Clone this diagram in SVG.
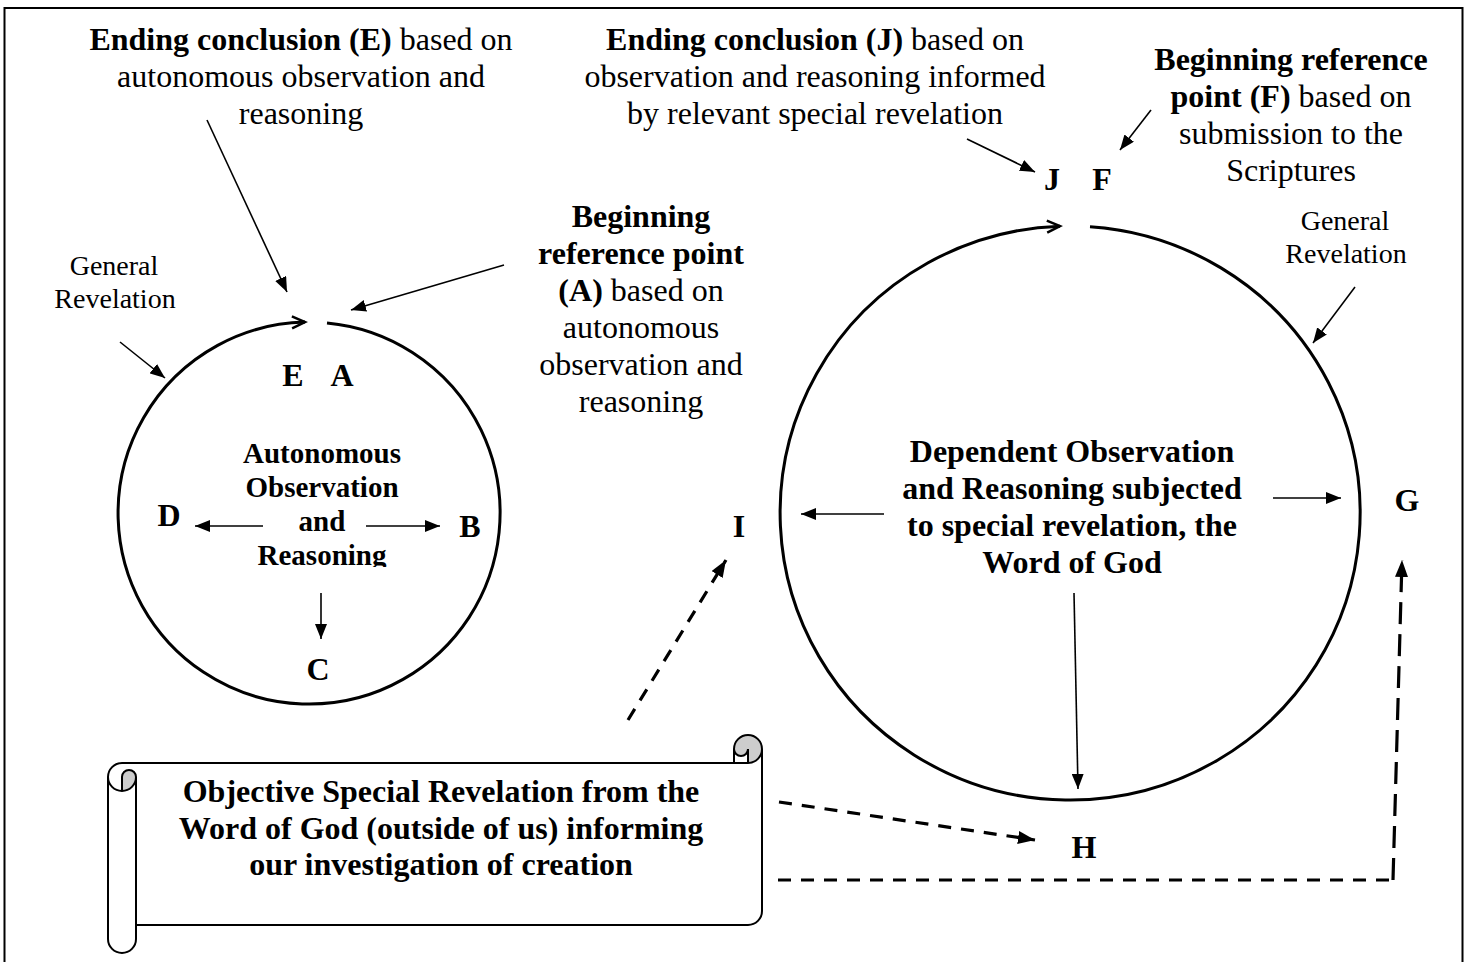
<svg xmlns="http://www.w3.org/2000/svg" width="1468" height="962" viewBox="0 0 1468 962">
<style>
text{font-family:"Liberation Serif","Times New Roman",serif;fill:#000}
.t{font-size:32px;text-anchor:middle}
.s{font-size:28px;text-anchor:middle}
.m{font-size:29px;text-anchor:middle;font-weight:bold}
.b{font-weight:bold}
.L{font-size:32px;font-weight:bold;text-anchor:middle}
.ln{fill:none;stroke:#000;stroke-width:1.6}
.dash{fill:none;stroke:#000;stroke-width:3.2;stroke-dasharray:13 10}
.dashv{fill:none;stroke:#000;stroke-width:3.2;stroke-dasharray:22 10}
.circ{fill:none;stroke:#000;stroke-width:3}
</style>
<defs>
<marker id="tri" viewBox="0 0 15 12" refX="15" refY="6" markerWidth="15" markerHeight="12" markerUnits="userSpaceOnUse" orient="auto"><path d="M0,0 L15,6 L0,12 z" fill="#000"/></marker>
<marker id="trid" viewBox="0 0 17 13" refX="17" refY="6.5" markerWidth="17" markerHeight="13" markerUnits="userSpaceOnUse" orient="auto"><path d="M0,0 L17,6.5 L0,13 z" fill="#000"/></marker>
<marker id="chev" viewBox="-15 -9 18 18" refX="0" refY="0" markerWidth="18" markerHeight="18" markerUnits="userSpaceOnUse" orient="auto" overflow="visible"><path d="M-13,-6 L0,0 L-13,6" fill="none" stroke="#000" stroke-width="2.5"/></marker>
<clipPath id="clipR"><rect x="200" y="440" width="250" height="127"/></clipPath>
</defs>
<rect x="0" y="0" width="1468" height="962" fill="#fff"/>
<rect x="4.5" y="8" width="1458" height="980" fill="none" stroke="#000" stroke-width="2"/>

<g id="label-E-ending">
<text class="t" x="301" y="50"><tspan class="b">Ending conclusion (E)</tspan> based on</text>
<text class="t" x="301" y="87">autonomous observation and</text>
<text class="t" x="301" y="124">reasoning</text>
</g>
<g id="label-J-ending">
<text class="t" x="815" y="50"><tspan class="b">Ending conclusion (J)</tspan> based on</text>
<text class="t" x="815" y="87">observation and reasoning informed</text>
<text class="t" x="815" y="124">by relevant special revelation</text>
</g>
<g id="label-F-beginning">
<text class="t" x="1291" y="70"><tspan class="b">Beginning reference</tspan></text>
<text class="t" x="1291" y="107"><tspan class="b">point (F)</tspan> based on</text>
<text class="t" x="1291" y="144">submission to the</text>
<text class="t" x="1291" y="181">Scriptures</text>
</g>
<g id="label-A-beginning">
<text class="t b" x="641" y="227">Beginning</text>
<text class="t b" x="641" y="264">reference point</text>
<text class="t" x="641" y="301"><tspan class="b">(A)</tspan> based on</text>
<text class="t" x="641" y="338">autonomous</text>
<text class="t" x="641" y="375">observation and</text>
<text class="t" x="641" y="412">reasoning</text>
</g>
<g id="general-revelation-left">
<text class="s" x="114" y="275">General</text>
<text class="s" x="115" y="308">Revelation</text>
</g>
<g id="general-revelation-right">
<text class="s" x="1345" y="230">General</text>
<text class="s" x="1346" y="263">Revelation</text>
</g>

<g id="autonomous-circle">
<path class="circ" d="M327,322.9 A191 191 0 1 1 305,322.1" marker-end="url(#chev)"/>
<text class="m" x="322" y="463">Autonomous</text>
<text class="m" x="322" y="497">Observation</text>
<text class="m" x="322" y="531">and</text>
<text class="m" x="322" y="565" clip-path="url(#clipR)">Reasoning</text>
</g>
<g id="dependent-circle">
<path class="circ" d="M1090,226.7 A290 287 0 1 1 1060,226.2" marker-end="url(#chev)"/>
<text class="L" x="1072" y="462">Dependent Observation</text>
<text class="L" x="1072" y="499">and Reasoning subjected</text>
<text class="L" x="1072" y="536">to special revelation, the</text>
<text class="L" x="1072" y="573">Word of God</text>
</g>

<g id="points">
<text class="L" x="293" y="386">E</text>
<text class="L" x="342" y="386">A</text>
<text class="L" x="169" y="526">D</text>
<text class="L" x="470" y="537">B</text>
<text class="L" x="318" y="680">C</text>
<text class="L" x="1052" y="190">J</text>
<text class="L" x="1102" y="190">F</text>
<text class="L" x="739" y="537">I</text>
<text class="L" x="1407" y="511">G</text>
<text class="L" x="1084" y="858">H</text>
</g>

<g id="scroll">
<path d="M762,749 A14 14 0 0 1 748,763 L748,749 A7 7 0 0 1 734,749 L734,763 L122,763 A14 14 0 0 0 108,777 L108,939 A14 14 0 0 0 136,939 L136,925 L748,925 A14 14 0 0 0 762,911 Z" fill="#fff"/>
<path d="M122,791 A14 14 0 0 0 136,777 A7 7 0 0 0 122,777 Z M748,763 A14 14 0 1 0 734,749 A7 7 0 0 0 748,749 Z" fill="#cdcdcd"/>
<path d="M108,777 A14 14 0 0 1 122,763 L734,763 L734,749 A14 14 0 0 1 762,749 L762,911 A14 14 0 0 1 748,925 L136,925 L136,939 A14 14 0 0 1 108,939 Z M734,763 L748,763 A14 14 0 0 0 762,749 M748,763 L748,749 A7 7 0 0 1 734,749 M122,791 L122,777 A7 7 0 0 1 136,777 A14 14 0 0 1 108,777 M136,777 L136,925" fill="none" stroke="#000" stroke-width="2"/>
<text class="L" x="441" y="802">Objective Special Revelation from the</text>
<text class="L" x="441" y="839">Word of God (outside of us) informing</text>
<text class="L" x="441" y="875">our investigation of creation</text>
</g>

<g id="connectors">
<path class="ln" d="M207,120 L287,292" marker-end="url(#tri)"/>
<path class="ln" d="M504,265 L351,310" marker-end="url(#tri)"/>
<path class="ln" d="M967,139 L1035,172" marker-end="url(#tri)"/>
<path class="ln" d="M1151,110 L1120,150" marker-end="url(#tri)"/>
<path class="ln" d="M120,342 L165,378" marker-end="url(#tri)"/>
<path class="ln" d="M1355,287 L1313,343" marker-end="url(#tri)"/>
<path class="ln" d="M263,526 L195,526" marker-end="url(#tri)"/>
<path class="ln" d="M366,526 L440,526" marker-end="url(#tri)"/>
<path class="ln" d="M321,593 L321,639" marker-end="url(#tri)"/>
<path class="ln" d="M884,514 L801,514" marker-end="url(#tri)"/>
<path class="ln" d="M1273,498 L1341,498" marker-end="url(#tri)"/>
<path class="ln" d="M1074,593 L1078,789" marker-end="url(#tri)"/>
<path class="dash" d="M628,720 L726,560" marker-end="url(#trid)"/>
<path class="dash" d="M779,802 L1035,840" marker-end="url(#trid)"/>
<path class="dash" d="M778,880 L1394,880"/>
<path class="dashv" d="M1393,880 L1402,560" marker-end="url(#trid)"/>
</g>
</svg>
